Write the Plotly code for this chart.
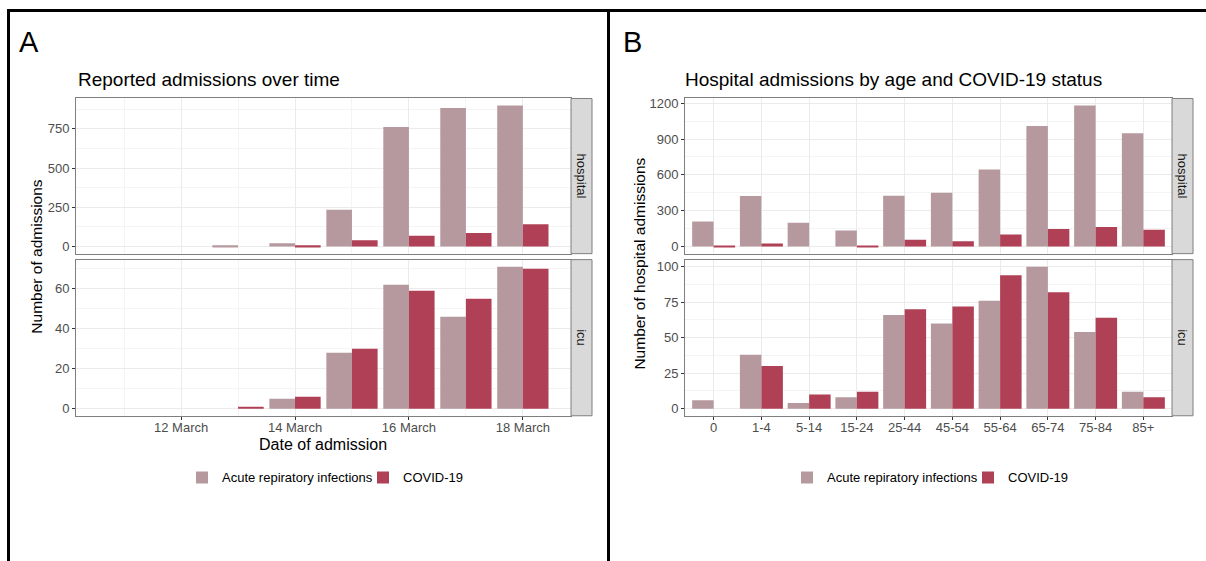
import plotly.graph_objects as go

W, H = 1206, 561

# ---------------- data ----------------
dates = ["2020-03-11", "2020-03-12", "2020-03-13", "2020-03-14",
         "2020-03-15", "2020-03-16", "2020-03-17", "2020-03-18"]
hosp_ari_time = [0, 0, 8, 21, 234, 762, 882, 898]
hosp_cov_time = [0, 0, 0, 8, 40, 69, 86, 142]
icu_ari_time = [0, 0, 0, 5, 28, 62, 46, 71]
icu_cov_time = [0, 0, 1, 6, 30, 59, 55, 70]
date_tickvals = ["2020-03-12", "2020-03-14", "2020-03-16", "2020-03-18"]
date_ticktext = ["12 March", "14 March", "16 March", "18 March"]

ages = ["0", "1-4", "5-14", "15-24", "25-44", "45-54", "55-64", "65-74", "75-84", "85+"]
hosp_ari_age = [211, 423, 200, 135, 426, 450, 645, 1008, 1181, 948]
hosp_cov_age = [5, 27, 0, 4, 58, 44, 102, 148, 165, 140]
icu_ari_age = [6, 38, 4, 8, 66, 60, 76, 100, 54, 12]
icu_cov_age = [0, 30, 10, 12, 70, 72, 94, 82, 64, 8]

series_names = ["Acute repiratory infections", "COVID-19"]
colors = ["#B5999F", "#B04055"]

FONT = "Liberation Sans, Arial, sans-serif"
GRID = "#EBEBEB"
MINOR = "#F4F4F4"
BORDER = "#7F7F7F"
TICKC = "#4D4D4D"


def px_x(p):
    return p / W


def px_y(p):
    return 1 - p / H


fig = go.Figure()

# Panel A
for i, ys in enumerate([hosp_ari_time, hosp_cov_time]):
    fig.add_trace(go.Bar(x=dates, y=ys, name=series_names[i], marker_color=colors[i],
                         marker_line_width=0, xaxis="x", yaxis="y", offsetgroup=str(i),
                         legend="legend", showlegend=True))
for i, ys in enumerate([icu_ari_time, icu_cov_time]):
    fig.add_trace(go.Bar(x=dates, y=ys, name=series_names[i], marker_color=colors[i],
                         marker_line_width=0, xaxis="x2", yaxis="y2", offsetgroup=str(i),
                         legend="legend", showlegend=False))
# Panel B
for i, ys in enumerate([hosp_ari_age, hosp_cov_age]):
    fig.add_trace(go.Bar(x=ages, y=ys, name=series_names[i], marker_color=colors[i],
                         marker_line_width=0, xaxis="x3", yaxis="y3", offsetgroup=str(i),
                         legend="legend2", showlegend=True))
for i, ys in enumerate([icu_ari_age, icu_cov_age]):
    fig.add_trace(go.Bar(x=ages, y=ys, name=series_names[i], marker_color=colors[i],
                         marker_line_width=0, xaxis="x4", yaxis="y4", offsetgroup=str(i),
                         legend="legend2", showlegend=False))

A_X = [px_x(76), px_x(571)]
B_X = [px_x(685), px_x(1172)]
TOP_Y = [px_y(252), px_y(96)]
BOT_Y = [px_y(415), px_y(258)]

common_axis = dict(showline=True, mirror=True, linecolor=BORDER, linewidth=1,
                   gridcolor=GRID, gridwidth=1, zeroline=False,
                   tickfont=dict(family=FONT, size=13, color=TICKC),
                   ticks="outside", ticklen=3, tickcolor="#333333", tickwidth=1)

date_range = ["2020-03-10 03:43:12", "2020-03-18 20:16:48"]
date_minor = dict(dtick=86400000, tick0="2020-03-11", showgrid=True, gridcolor=MINOR,
                  gridwidth=1, ticks="")

layout_axes = dict(
    xaxis=dict(common_axis, domain=A_X, anchor="y", type="date", range=date_range,
               tickmode="array", tickvals=date_tickvals, ticktext=date_ticktext,
               showticklabels=False, ticks="", minor=date_minor),
    yaxis=dict(common_axis, domain=TOP_Y, anchor="x", range=[-44.9, 942.9],
               tickmode="array", tickvals=[0, 250, 500, 750],
               minor=dict(tickvals=[125, 375, 625, 875], showgrid=True, gridcolor=MINOR, ticks="")),
    xaxis2=dict(common_axis, domain=A_X, anchor="y2", type="date", range=date_range,
                tickmode="array", tickvals=date_tickvals, ticktext=date_ticktext,
                minor=date_minor, ticklabelstandoff=-3),
    yaxis2=dict(common_axis, domain=BOT_Y, anchor="x2", range=[-3.55, 74.55],
                tickmode="array", tickvals=[0, 20, 40, 60],
                minor=dict(tickvals=[10, 30, 50, 70], showgrid=True, gridcolor=MINOR, ticks="")),
    xaxis3=dict(common_axis, domain=B_X, anchor="y3", type="category", range=[-0.6, 9.6],
                categoryorder="array", categoryarray=ages,
                showticklabels=False, ticks=""),
    yaxis3=dict(common_axis, domain=TOP_Y, anchor="x3", range=[-59, 1239],
                tickmode="array", tickvals=[0, 300, 600, 900, 1200],
                minor=dict(tickvals=[150, 450, 750, 1050], showgrid=True, gridcolor=MINOR, ticks="")),
    xaxis4=dict(common_axis, domain=B_X, anchor="y4", type="category", range=[-0.6, 9.6],
                categoryorder="array", categoryarray=ages, ticklabelstandoff=-3),
    yaxis4=dict(common_axis, domain=BOT_Y, anchor="x4", range=[-5, 105],
                tickmode="array", tickvals=[0, 25, 50, 75, 100],
                minor=dict(tickvals=[12.5, 37.5, 62.5, 87.5], showgrid=True, gridcolor=MINOR, ticks="")),
)

shapes = []
# strips
for x0, x1 in [(571, 592), (1172, 1193)]:
    for y0, y1 in [(96, 252), (258, 415)]:
        shapes.append(dict(type="rect", xref="paper", yref="paper",
                           x0=px_x(x0), x1=px_x(x1), y0=px_y(y1), y1=px_y(y0),
                           fillcolor="#D9D9D9", line=dict(color=BORDER, width=1), layer="above"))
# black frame lines
shapes.append(dict(type="line", xref="paper", yref="paper", x0=px_x(8.5), x1=px_x(8.5),
                   y0=px_y(6), y1=px_y(575), line=dict(color="black", width=3)))
shapes.append(dict(type="line", xref="paper", yref="paper", x0=px_x(7), x1=px_x(1206),
                   y0=px_y(7.5), y1=px_y(7.5), line=dict(color="black", width=3)))
shapes.append(dict(type="line", xref="paper", yref="paper", x0=px_x(608.5), x1=px_x(608.5),
                   y0=px_y(6), y1=px_y(575), line=dict(color="black", width=3)))

annotations = []


def ann(text, x, y, size, xanchor="left", yanchor="middle", angle=0, color="black"):
    annotations.append(dict(text=text, x=px_x(x), y=px_y(y), xref="paper", yref="paper",
                            showarrow=False, xanchor=xanchor, yanchor=yanchor,
                            textangle=angle, font=dict(family=FONT, size=size, color=color)))


ann("A", 17, 39, 29)
ann("B", 621, 39, 29)
ann("Reported admissions over time", 76, 77, 19)
ann("Hospital admissions by age and COVID-19 status", 683, 77, 19)
ann("Number of admissions", 37, 255, 15.5, xanchor="center", angle=-90)
ann("Number of hospital admissions", 640, 262, 15.5, xanchor="center", angle=-90)
ann("Date of admission", 323.5, 444, 16, xanchor="center")
for xc in [581.5, 1182.5]:
    ann("hospital", xc, 174, 13, xanchor="center", angle=90, color="#1A1A1A")
    ann("icu", xc, 336.5, 13, xanchor="center", angle=90, color="#1A1A1A")

legend_common = dict(orientation="h", yanchor="middle", y=px_y(477), xanchor="left",
                     font=dict(family=FONT, size=13, color="black"),
                     bgcolor="rgba(0,0,0,0)", traceorder="normal",
                     entrywidth=136, entrywidthmode="pixels")

fig.update_layout(
    width=W, height=H,
    margin=dict(l=0, r=0, t=0, b=0),
    paper_bgcolor="white", plot_bgcolor="white",
    barmode="group", bargap=0.1, bargroupgap=0,
    shapes=shapes, annotations=annotations,
    legend=dict(legend_common, x=px_x(182)),
    legend2=dict(legend_common, x=px_x(787)),
    **layout_axes,
)

fig.write_html("out.html", config={"displayModeBar": False},
               post_script="document.body.style.margin='0px';document.body.style.overflow='hidden';")
